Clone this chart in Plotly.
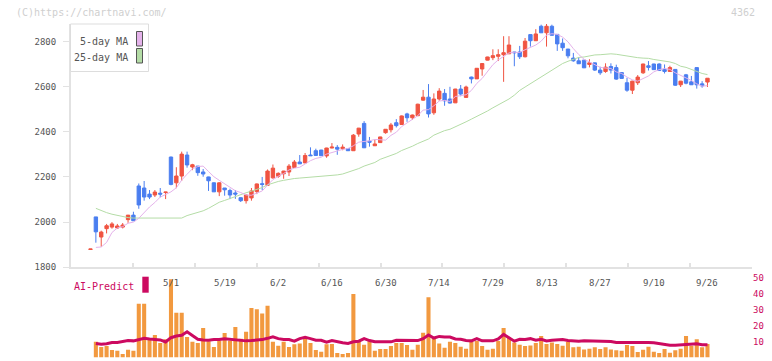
import numpy as np
import plotly.graph_objects as go

# ---------------- data ----------------
dates = ["4/9", "4/10", "4/11", "4/14", "4/15", "4/16", "4/17", "4/18", "4/21", "4/22",
         "4/23", "4/24", "4/25", "4/28", "4/30", "5/1", "5/2", "5/7", "5/8", "5/9",
         "5/12", "5/13", "5/14", "5/15", "5/16", "5/19", "5/20", "5/21", "5/22", "5/23",
         "5/26", "5/27", "5/28", "5/29", "5/30", "6/2", "6/3", "6/4", "6/5", "6/6",
         "6/9", "6/10", "6/11", "6/12", "6/13", "6/16", "6/17", "6/18", "6/19", "6/20",
         "6/23", "6/24", "6/25", "6/26", "6/27", "6/30", "7/1", "7/2", "7/3", "7/4",
         "7/7", "7/8", "7/9", "7/10", "7/11", "7/14", "7/15", "7/16", "7/17", "7/18",
         "7/22", "7/23", "7/24", "7/25", "7/28", "7/29", "7/30", "7/31", "8/1", "8/4",
         "8/5", "8/6", "8/7", "8/8", "8/12", "8/13", "8/14", "8/15", "8/18", "8/19",
         "8/20", "8/21", "8/22", "8/25", "8/26", "8/27", "8/28", "8/29", "9/1", "9/2",
         "9/3", "9/4", "9/5", "9/8", "9/9", "9/10", "9/11", "9/12", "9/16", "9/17",
         "9/18", "9/19", "9/22", "9/24", "9/25", "9/26"]

opens = [1879, 2023, 1934, 1971, 1978, 1974, 1978, 2011, 2031, 2160,
         2151, 2124, 2120, 2128, 2131, 2288, 2174, 2204, 2297, 2244,
         2248, 2222, 2200, 2174, 2134, 2151, 2140, 2129, 2108, 2095,
         2107, 2135, 2170, 2163, 2196, 2203, 2214, 2222, 2242, 2266,
         2262, 2297, 2316, 2319, 2293, 2328, 2331, 2325, 2325, 2316,
         2390, 2437, 2358, 2338, 2352, 2396, 2409, 2440, 2432, 2479,
         2462, 2471, 2540, 2553, 2484, 2545, 2570, 2545, 2528, 2589,
         2552, 2642, 2634, 2678, 2717, 2728, 2734, 2741, 2745, 2753,
         2753, 2732, 2830, 2803, 2867, 2838, 2867, 2831, 2792, 2766,
         2726, 2714, 2717, 2698, 2705, 2673, 2667, 2689, 2684, 2662,
         2617, 2584, 2617, 2661, 2692, 2700, 2700, 2676, 2667, 2676,
         2608, 2652, 2621, 2684, 2612, 2620]
highs = [1881, 2023, 1962, 1992, 2000, 1992, 1996, 2031, 2046, 2171,
         2182, 2142, 2142, 2151, 2134, 2290, 2243, 2312, 2312, 2258,
         2248, 2235, 2201, 2176, 2176, 2151, 2148, 2142, 2110, 2122,
         2151, 2171, 2200, 2233, 2255, 2220, 2227, 2257, 2275, 2297,
         2306, 2331, 2325, 2320, 2329, 2350, 2341, 2344, 2327, 2390,
         2417, 2447, 2377, 2365, 2378, 2412, 2439, 2456, 2472, 2484,
         2476, 2524, 2585, 2611, 2570, 2593, 2589, 2599, 2590, 2607,
         2604, 2644, 2682, 2703, 2732, 2765, 2765, 2823, 2823, 2754,
         2780, 2815, 2831, 2854, 2874, 2877, 2874, 2832, 2813, 2767,
         2749, 2730, 2718, 2721, 2706, 2688, 2703, 2703, 2697, 2663,
         2639, 2626, 2651, 2701, 2713, 2701, 2703, 2698, 2692, 2677,
         2625, 2656, 2647, 2685, 2624, 2638]
lows = [1879, 1909, 1891, 1950, 1971, 1971, 1972, 1997, 2006, 2059,
        2095, 2102, 2111, 2110, 2102, 2163, 2150, 2182, 2241, 2230,
        2205, 2201, 2138, 2134, 2115, 2117, 2102, 2103, 2089, 2082,
        2095, 2124, 2142, 2160, 2192, 2196, 2192, 2204, 2240, 2257,
        2261, 2293, 2294, 2294, 2285, 2327, 2298, 2318, 2315, 2315,
        2378, 2328, 2334, 2337, 2351, 2391, 2397, 2419, 2431, 2444,
        2452, 2470, 2537, 2463, 2475, 2537, 2515, 2525, 2527, 2557,
        2552, 2614, 2634, 2648, 2716, 2717, 2713, 2621, 2745, 2690,
        2722, 2729, 2777, 2802, 2838, 2777, 2826, 2758, 2758, 2725,
        2710, 2700, 2682, 2685, 2669, 2652, 2661, 2658, 2630, 2635,
        2577, 2567, 2607, 2656, 2671, 2674, 2670, 2658, 2667, 2603,
        2598, 2610, 2607, 2591, 2595, 2598]
closes = [1881, 1957, 1956, 1984, 1992, 1983, 1987, 2031, 2006, 2076,
          2111, 2111, 2133, 2124, 2133, 2167, 2204, 2301, 2253, 2254,
          2219, 2213, 2183, 2134, 2174, 2143, 2120, 2124, 2095, 2120,
          2138, 2169, 2167, 2226, 2239, 2216, 2226, 2248, 2266, 2258,
          2295, 2294, 2295, 2294, 2328, 2332, 2323, 2332, 2316, 2385,
          2416, 2329, 2354, 2346, 2377, 2411, 2430, 2427, 2470, 2462,
          2474, 2522, 2553, 2479, 2545, 2580, 2537, 2527, 2589, 2567,
          2598, 2634, 2681, 2702, 2731, 2737, 2741, 2750, 2784, 2750,
          2732, 2801, 2803, 2833, 2838, 2867, 2827, 2789, 2772, 2736,
          2714, 2701, 2683, 2705, 2673, 2661, 2686, 2673, 2633, 2636,
          2584, 2624, 2642, 2700, 2685, 2675, 2671, 2667, 2684, 2606,
          2624, 2615, 2608, 2608, 2603, 2637]

ma5 = [None, 1888, 1890, 1910, 1954, 1974, 1980, 1995, 2000, 2017,
       2042, 2067, 2087, 2111, 2122, 2134, 2152, 2186, 2212, 2236,
       2246, 2248, 2224, 2201, 2185, 2169, 2151, 2139, 2131, 2120,
       2119, 2129, 2138, 2164, 2188, 2203, 2215, 2231, 2239, 2243,
       2259, 2272, 2282, 2287, 2301, 2309, 2314, 2322, 2326, 2338,
       2354, 2356, 2360, 2366, 2364, 2363, 2384, 2398, 2423, 2440,
       2453, 2471, 2496, 2498, 2515, 2536, 2539, 2534, 2556, 2560,
       2564, 2583, 2614, 2636, 2669, 2697, 2718, 2732, 2749, 2752,
       2751, 2763, 2774, 2784, 2801, 2828, 2834, 2831, 2819, 2798,
       2768, 2742, 2721, 2708, 2695, 2685, 2682, 2680, 2665, 2658,
       2642, 2630, 2624, 2637, 2647, 2665, 2675, 2680, 2676, 2661,
       2650, 2639, 2627, 2612, 2602, 2604]
ma25 = [None, 2061, 2050, 2042, 2035, 2029, 2024, 2020, 2018, 2018,
        2018, 2018, 2018, 2018, 2018, 2018, 2018, 2018, 2029, 2035,
        2042, 2050, 2061, 2076, 2088, 2096, 2105, 2114, 2124, 2130,
        2137, 2145, 2153, 2165, 2174, 2180, 2185, 2190, 2193, 2195,
        2197, 2199, 2200, 2201, 2203, 2206, 2209, 2213, 2220, 2227,
        2237, 2248, 2256, 2264, 2278, 2287, 2294, 2304, 2317, 2326,
        2336, 2348, 2358, 2368, 2385, 2395, 2405, 2411, 2421, 2432,
        2444, 2456, 2467, 2481, 2492, 2506, 2518, 2530, 2545, 2562,
        2583, 2598, 2613, 2627, 2643, 2660, 2675, 2690, 2702, 2712,
        2722, 2729, 2731, 2737, 2740, 2741, 2744, 2745, 2743, 2739,
        2734, 2731, 2728, 2726, 2725, 2720, 2717, 2713, 2709, 2702,
        2690, 2685, 2676, 2665, 2658, 2653]

ai_bars = [None, 10.0, 6.6, 7.2, 4.7, 4.3, 2.2, 4.9, 4.3, 33.9,
           33.9, 12.3, 14.2, 9.1, 11.6, 49.4, 28.2, 28.2, 12.9, 10.0,
           9.1, 18.6, 10.2, 6.6, 10.6, 15.4, 10.6, 19.2, 11.8, 16.2,
           31.3, 30.5, 27.8, 32.6, 10.0, 7.4, 10.0, 6.6, 8.3, 8.8,
           12.1, 9.1, 4.7, 3.7, 8.3, 8.5, 2.8, 2.2, 2.8, 40.1,
           10.4, 8.1, 10.2, 4.3, 5.3, 5.3, 7.2, 9.1, 9.1, 7.9,
           4.9, 8.1, 15.6, 38.1, 12.1, 8.8, 6.1, 10.0, 9.1, 6.8,
           5.5, 10.0, 10.4, 7.2, 4.9, 5.5, 10.4, 18.6, 12.7, 9.4,
           8.1, 7.2, 7.6, 9.1, 13.5, 8.5, 9.4, 8.5, 7.4, 10.0,
           6.4, 6.8, 5.1, 5.5, 6.4, 5.3, 6.4, 5.1, 4.5, 4.3,
           7.9, 7.2, 3.4, 4.9, 6.8, 3.7, 2.8, 5.3, 3.0, 4.5,
           5.5, 13.5, 7.4, 11.6, 6.4, 8.5]
ai_line = [None, 8.9, 8.3, 8.7, 9.5, 9.5, 10.1, 10.7, 10.5, 11.3,
           12.1, 11.7, 11.5, 11.1, 9.8, 12.5, 13.6, 14.0, 16.2, 13.9,
           11.5, 11.1, 10.9, 11.3, 11.3, 11.9, 11.5, 11.3, 10.9, 10.5,
           10.7, 10.9, 11.3, 12.1, 13.1, 11.9, 11.3, 11.3, 10.3, 11.9,
           12.7, 11.9, 10.9, 10.9, 9.7, 10.7, 9.9, 9.3, 8.9, 9.9,
           10.3, 11.9, 10.7, 9.9, 9.9, 9.9, 9.9, 10.9, 10.9, 10.9,
           10.7, 10.7, 11.9, 14.2, 12.3, 13.3, 12.9, 12.9, 11.7, 11.5,
           10.7, 10.5, 11.9, 10.5, 10.5, 10.5, 11.7, 14.6, 12.5, 10.3,
           11.5, 11.3, 11.9, 10.9, 11.5, 10.5, 10.9, 10.9, 11.3, 10.7,
           10.3, 10.3, 10.5, 10.5, 10.5, 10.5, 10.5, 10.1, 9.5, 9.5,
           9.7, 9.9, 9.5, 9.5, 9.5, 9.3, 8.7, 8.3, 7.7, 7.7,
           7.9, 8.5, 8.5, 8.7, 8.1, 8.1]

label_dates = ["5/1", "5/19", "6/2", "6/16", "6/30", "7/14", "7/29", "8/13", "8/27", "9/10", "9/26"]
price_ticks = [1800, 2000, 2200, 2400, 2600, 2800]
ai_ticks = [0, 10, 20, 30, 40, 50]

# ---------------- style ----------------
W, H = 772, 361
FONT = "DejaVu Sans Mono"
UP, DOWN = "#f05442", "#4a7ef0"
MA5C, MA25C = "#e4b2ea", "#b4dca6"
BARC, AIC = "#f2993f", "#cc0a60"
AX, TXT = "#e2e2e2", "#555555"


def px(x):
    return x / W


def py(y):
    return 1 - y / H


X0, X1 = 71, 752
STEP, FIRST = 5.365, 90.5
xr = [(X0 - FIRST) / STEP, (X1 - FIRST) / STEP]
idx = list(range(len(dates)))

fig = go.Figure()
fig.add_trace(go.Scatter(x=idx, y=ma25, mode="lines", line=dict(color=MA25C, width=1),
                         hoverinfo="skip", xaxis="x", yaxis="y"))
fig.add_trace(go.Scatter(x=idx, y=ma5, mode="lines", line=dict(color=MA5C, width=1),
                         hoverinfo="skip", xaxis="x", yaxis="y"))
fig.add_trace(go.Candlestick(x=idx, open=opens, high=highs, low=lows, close=closes,
                             increasing=dict(line=dict(color=UP, width=1), fillcolor=UP),
                             decreasing=dict(line=dict(color=DOWN, width=1), fillcolor=DOWN),
                             whiskerwidth=0, xaxis="x", yaxis="y"))
fig.add_trace(go.Bar(x=idx, y=ai_bars, marker=dict(color=BARC, line=dict(width=0)),
                     width=0.76, xaxis="x2", yaxis="y2"))
fig.add_trace(go.Scatter(x=idx, y=ai_line, mode="lines", line=dict(color=AIC, width=3),
                         xaxis="x2", yaxis="y2"))


def note(x, y, text, size, color, xanchor="center", xref="paper"):
    return dict(x=x, y=py(y), xref=xref, yref="paper", xanchor=xanchor, yanchor="middle",
                text=text, showarrow=False, font=dict(family=FONT, size=size, color=color))


annotations = [note(dates.index(d), 282.5, d, 9, TXT, xref="x") for d in label_dates]
annotations += [
    note(px(14), 12.5, "(C)https://chartnavi.com/", 10, "#cfcfcf", "left"),
    note(px(757), 12.5, "4362", 10, "#cfcfcf", "right"),
    note(px(130), 41, "5-day MA", 10, TXT, "right"),
    note(px(130), 57, "25-day MA", 10, TXT, "right"),
    note(px(136), 286, "AI-Predict", 10, AIC, "right"),
]

shapes = [
    dict(type="rect", xref="paper", yref="paper", x0=px(70.5), x1=px(148.5), y0=py(71.5), y1=py(24),
         fillcolor="white", line=dict(color="#dddddd", width=1), layer="above"),
    dict(type="rect", xref="paper", yref="paper", x0=px(136.5), x1=px(142.5), y0=py(46), y1=py(31.5),
         fillcolor=MA5C, line=dict(color="#555555", width=1), layer="above"),
    dict(type="rect", xref="paper", yref="paper", x0=px(136.5), x1=px(142.5), y0=py(63), y1=py(48.5),
         fillcolor=MA25C, line=dict(color="#555555", width=1), layer="above"),
    dict(type="rect", xref="paper", yref="paper", x0=px(142.3), x1=px(148.7), y0=py(292.7), y1=py(276.7),
         fillcolor=AIC, line=dict(width=0), layer="above"),
]

fig.update_layout(
    width=W, height=H, margin=dict(l=0, r=0, t=0, b=0, pad=0), autosize=False,
    paper_bgcolor="white", plot_bgcolor="white", showlegend=False,
    boxgap=0.1, bargap=0.24,
    font=dict(family=FONT, size=9, color=TXT),
    annotations=annotations, shapes=shapes,
    xaxis=dict(domain=[px(X0), px(X1)], range=xr, anchor="y", showgrid=False, zeroline=False,
               showline=True, linecolor=AX, linewidth=2, ticks="inside", ticklen=4, tickwidth=2,
               tickcolor=AX, tickmode="array", tickvals=list(np.linspace(xr[0], xr[1], 12)),
               showticklabels=False, rangeslider=dict(visible=False), fixedrange=True,
               automargin=False),
    yaxis=dict(domain=[py(267.3), py(24)], range=[1800, 2877], anchor="x", showgrid=False,
               zeroline=False, showline=True, linecolor=AX, linewidth=2, ticks="outside",
               ticklen=6, tickwidth=1, tickcolor=AX, tickmode="array", tickvals=price_ticks,
               ticklabelstandoff=5, tickfont=dict(family=FONT, size=9, color=TXT), fixedrange=True,
               automargin=False),
    xaxis2=dict(domain=[px(X0), px(X1)], range=xr, anchor="y2", matches="x", showgrid=False,
                zeroline=False, showline=False, ticks="", showticklabels=False, fixedrange=True,
                automargin=False),
    yaxis2=dict(domain=[py(357.5), py(278.3)], range=[0, 50], anchor="x2", side="right",
                showgrid=False, zeroline=False, showline=False, ticks="", tickmode="array",
                tickvals=ai_ticks, tickfont=dict(family=FONT, size=9, color=AIC), fixedrange=True,
                automargin=False),
)

fig.write_html(
    "out.html",
    config={"displayModeBar": False, "responsive": False},
    post_script=("var s=document.documentElement.style;s.margin='0';s.padding='0';s.overflow='hidden';"
                 "var b=document.body.style;b.margin='0';b.padding='0';b.overflow='hidden';"),
)
